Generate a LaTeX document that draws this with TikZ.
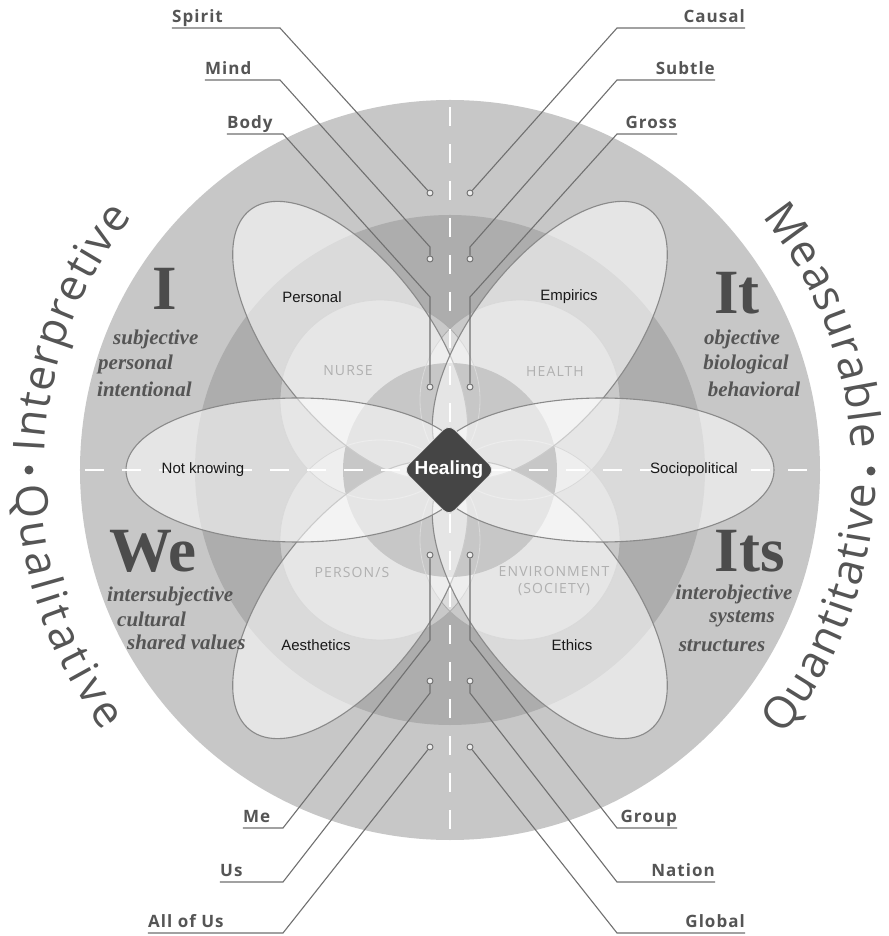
\documentclass[tikz,border=0pt]{standalone}
\usepackage{fontspec}
\usepackage{tikz}
\usetikzlibrary{shapes.geometric,decorations.text}
\setmainfont{Liberation Serif}
\newfontfamily\levelfont{Open Sans}[LetterSpace=6]
\newfontfamily\curvefont{Open Sans}
\newfontfamily\petalfont{Liberation Sans}
\newfontfamily\quadfont{Open Sans}[LetterSpace=8]
\definecolor{outerring}{gray}{0.78}
\definecolor{middlering}{gray}{0.68}
\definecolor{innerring}{gray}{0.52}
\definecolor{ink}{HTML}{555555}
\definecolor{leader}{HTML}{707070}
\definecolor{petalline}{HTML}{8A8A8A}
\definecolor{quadline}{HTML}{ABABAB}
\definecolor{quadgray}{HTML}{B0B0B0}
\definecolor{healing}{HTML}{454545}

\begin{document}
\begin{tikzpicture}[x=1pt,y=1pt,
  petal/.style={draw=petalline,line width=1.1pt,fill=white,fill opacity=0.55},
  quad/.style={fill=white,fill opacity=0.35},
  quadring/.style={draw=quadline,line width=0.8pt},
  axisline/.style={white,line width=2pt,dash pattern=on 19pt off 18pt},
  lead/.style={leader,line width=1.1pt},
  dot/.style={circle,draw=leader,fill=white!85!gray,line width=0.9pt,inner sep=0pt,minimum size=6pt},
  level/.style={font=\levelfont\bfseries\fontsize{17}{20}\selectfont,text=ink,inner sep=0pt,text depth=5pt},
  petaltext/.style={font=\petalfont\fontsize{15}{18}\selectfont,text=black!90},
  quadtext/.style={font=\quadfont\fontsize{14}{17}\selectfont,text=quadgray,align=center},
  bigletter/.style={font=\bfseries\fontsize{63}{63}\selectfont,text=ink!90!black,inner sep=0pt,anchor=base},
  quality/.style={font=\bfseries\itshape\fontsize{21}{24}\selectfont,text=ink,inner sep=0pt},
  sideword/.style={decorate,decoration={text along path,text align=fit to path,text color=ink}}
]
\useasboundingbox (-450,-466) rectangle (438,470);
\fill[white] (-450,-466) rectangle (438,470);

% Rings
\fill[outerring] (0,0) circle (370);
\fill[middlering] (0,0) circle (255);

% Nurse, health, person/s, environment
\fill[quad] (-70,70) circle (100);
\fill[quad] (70,70) circle (100);
\fill[quad] (-70,-70) circle (100);
\fill[quad] (70,-70) circle (100);
\fill[innerring] (0,0) circle (107);
\draw[quadring] (-70,70) circle (100);
\draw[quadring] (70,70) circle (100);
\draw[quadring] (-70,-70) circle (100);
\draw[quadring] (70,-70) circle (100);

% Patterns of knowing
\draw[petal,rotate=127.5] (164,0) ellipse [x radius=164,y radius=78];
\draw[petal,rotate=52.5] (164,0) ellipse [x radius=164,y radius=78];
\draw[petal,rotate=-127.5] (164,0) ellipse [x radius=164,y radius=78];
\draw[petal,rotate=-52.5] (164,0) ellipse [x radius=164,y radius=78];
\draw[petal] (-152,0) ellipse [x radius=172,y radius=72];
\draw[petal] (152,0) ellipse [x radius=172,y radius=72];

% Axes
\draw[axisline] (0,363) -- (0,-368);
\draw[axisline] (-365,0) -- (365,0);

% Healing
\node[diamond,aspect=1,rounded corners=8pt,fill=healing,draw=white!80!gray,line width=0.8pt,
  minimum width=92,minimum height=92,inner sep=0pt,
  font=\petalfont\bfseries\fontsize{19}{22}\selectfont,text=white] (healing) at (-1,0) {Healing};

% Petal labels
\node[petaltext] (personal) at (-138,173) {Personal};
\node[petaltext] (empirics) at (119,173) {Empirics};
\node[petaltext] (notknowing) at (-247,0) {Not knowing};
\node[petaltext] (sociopolitical) at (244,0) {Sociopolitical};
\node[petaltext] (aesthetics) at (-134,-175) {Aesthetics};
\node[petaltext] (ethics) at (122,-175) {Ethics};

% Quadrant circle labels
\node[quadtext] (nurse) at (-102,99) {NURSE};
\node[quadtext] (health) at (105,99) {HEALTH};
\node[quadtext] (persons) at (-98,-102) {PERSON/S};
\node[quadtext] (environment) at (104,-111.5) {ENVIRONMENT\\(SOCIETY)};

% Quadrants
\node[bigletter] (qI) at (-285,160) {I};
\node[quality,anchor=west] (subjective) at (-337,131) {subjective};
\node[quality,anchor=west] (personaltxt) at (-352,106) {personal};
\node[quality,anchor=west] (intentional) at (-353,81) {intentional};

\node[bigletter] (qIt) at (287,156) {It};
\node[quality] (objective) at (292,131) {objective};
\node[quality] (biological) at (296,106) {biological};
\node[quality] (behavioral) at (304,81) {behavioral};

\node[bigletter] (qWe) at (-297,-101) {We};
\node[quality,anchor=west] (intersubjective) at (-343,-126) {intersubjective};
\node[quality,anchor=west] (cultural) at (-333,-149) {cultural};
\node[quality,anchor=west] (shared) at (-323,-172) {shared values};

\node[bigletter] (qIts) at (300,-101) {Its};
\node[quality] (interobjective) at (284,-124) {interobjective};
\node[quality] (systems) at (292,-149) {systems};
\node[quality] (structures) at (272,-176) {structures};

% Side words
\path[sideword,decoration={text={|\curvefont\fontsize{44}{44}\selectfont|Interpretive}}]
  (177.5:406) arc[start angle=177.5,end angle=141.5,radius=406];
\path[sideword,decoration={text={|\curvefont\fontsize{44}{44}\selectfont|Qualitative}}]
  (182:434) arc[start angle=182,end angle=217,radius=434];
\path[sideword,decoration={text={|\curvefont\fontsize{44}{44}\selectfont|Measurable}}]
  (39:402) arc[start angle=39,end angle=3,radius=402];
\path[sideword,decoration={text={|\curvefont\fontsize{44}{44}\selectfont|Quantitative}}]
  (-38.5:426) arc[start angle=-38.5,end angle=-2,radius=426];
\node[circle,fill=ink,inner sep=0pt,minimum size=9pt] (leftbullet) at (-421,0) {};
\node[circle,fill=ink,inner sep=0pt,minimum size=9pt] (rightbullet) at (421,-1) {};

% Body, mind, spirit
\node[level,anchor=south west] (spirit) at (-278,442) {Spirit};
\node[level,anchor=south west] (mind) at (-245,390) {Mind};
\node[level,anchor=south west] (body) at (-223,336) {Body};
\node[dot] (spiritdot) at (-20,277) {};
\node[dot] (minddot) at (-20,211) {};
\node[dot] (bodydot) at (-20,83) {};
\coordinate (spiritbend) at (-170,442);
\coordinate (mindbend) at (-170,390);
\coordinate (mindknee) at (-20,223);
\coordinate (bodybend) at (-167,336);
\coordinate (bodyknee) at (-20,173);
\draw[lead] (spirit.south west) -- (spiritbend) -- (spiritdot);
\draw[lead] (mind.south west) -- (mindbend) -- (mindknee) -- (minddot);
\draw[lead] (body.south west) -- (bodybend) -- (bodyknee) -- (bodydot);

% Gross, subtle, causal
\node[level,anchor=south east] (causal) at (295,442) {Causal};
\node[level,anchor=south east] (subtle) at (265,390) {Subtle};
\node[level,anchor=south east] (gross) at (227,336) {Gross};
\node[dot] (causaldot) at (20,277) {};
\node[dot] (subtledot) at (20,211) {};
\node[dot] (grossdot) at (20,83) {};
\coordinate (causalbend) at (167,442);
\coordinate (subtlebend) at (167,390);
\coordinate (subtleknee) at (20,223);
\coordinate (grossbend) at (167,336);
\coordinate (grossknee) at (20,173);
\draw[lead] (causal.south east) -- (causalbend) -- (causaldot);
\draw[lead] (subtle.south east) -- (subtlebend) -- (subtleknee) -- (subtledot);
\draw[lead] (gross.south east) -- (grossbend) -- (grossknee) -- (grossdot);

% Me, us, all of us
\node[level,anchor=south west] (me) at (-207,-358) {Me};
\node[level,anchor=south west] (us) at (-230,-412) {Us};
\node[level,anchor=south west] (allofus) at (-302,-463) {All of Us};
\node[dot] (medot) at (-20,-85) {};
\node[dot] (usdot) at (-20,-211) {};
\node[dot] (allofusdot) at (-20,-277) {};
\coordinate (mebend) at (-167,-358);
\coordinate (meknee) at (-20,-170);
\coordinate (usbend) at (-167,-412);
\coordinate (usknee) at (-20,-223);
\coordinate (allofusbend) at (-167,-463);
\draw[lead] (me.south west) -- (mebend) -- (meknee) -- (medot);
\draw[lead] (us.south west) -- (usbend) -- (usknee) -- (usdot);
\draw[lead] (allofus.south west) -- (allofusbend) -- (allofusdot);

% Group, nation, global
\node[level,anchor=south east] (group) at (227,-358) {Group};
\node[level,anchor=south east] (nation) at (265,-412) {Nation};
\node[level,anchor=south east] (global) at (295,-463) {Global};
\node[dot] (groupdot) at (20,-85) {};
\node[dot] (nationdot) at (20,-211) {};
\node[dot] (globaldot) at (20,-277) {};
\coordinate (groupbend) at (167,-358);
\coordinate (groupknee) at (20,-170);
\coordinate (nationbend) at (167,-412);
\coordinate (nationknee) at (20,-223);
\coordinate (globalbend) at (167,-463);
\draw[lead] (group.south east) -- (groupbend) -- (groupknee) -- (groupdot);
\draw[lead] (nation.south east) -- (nationbend) -- (nationknee) -- (nationdot);
\draw[lead] (global.south east) -- (globalbend) -- (globaldot);
\end{tikzpicture}
\end{document}
